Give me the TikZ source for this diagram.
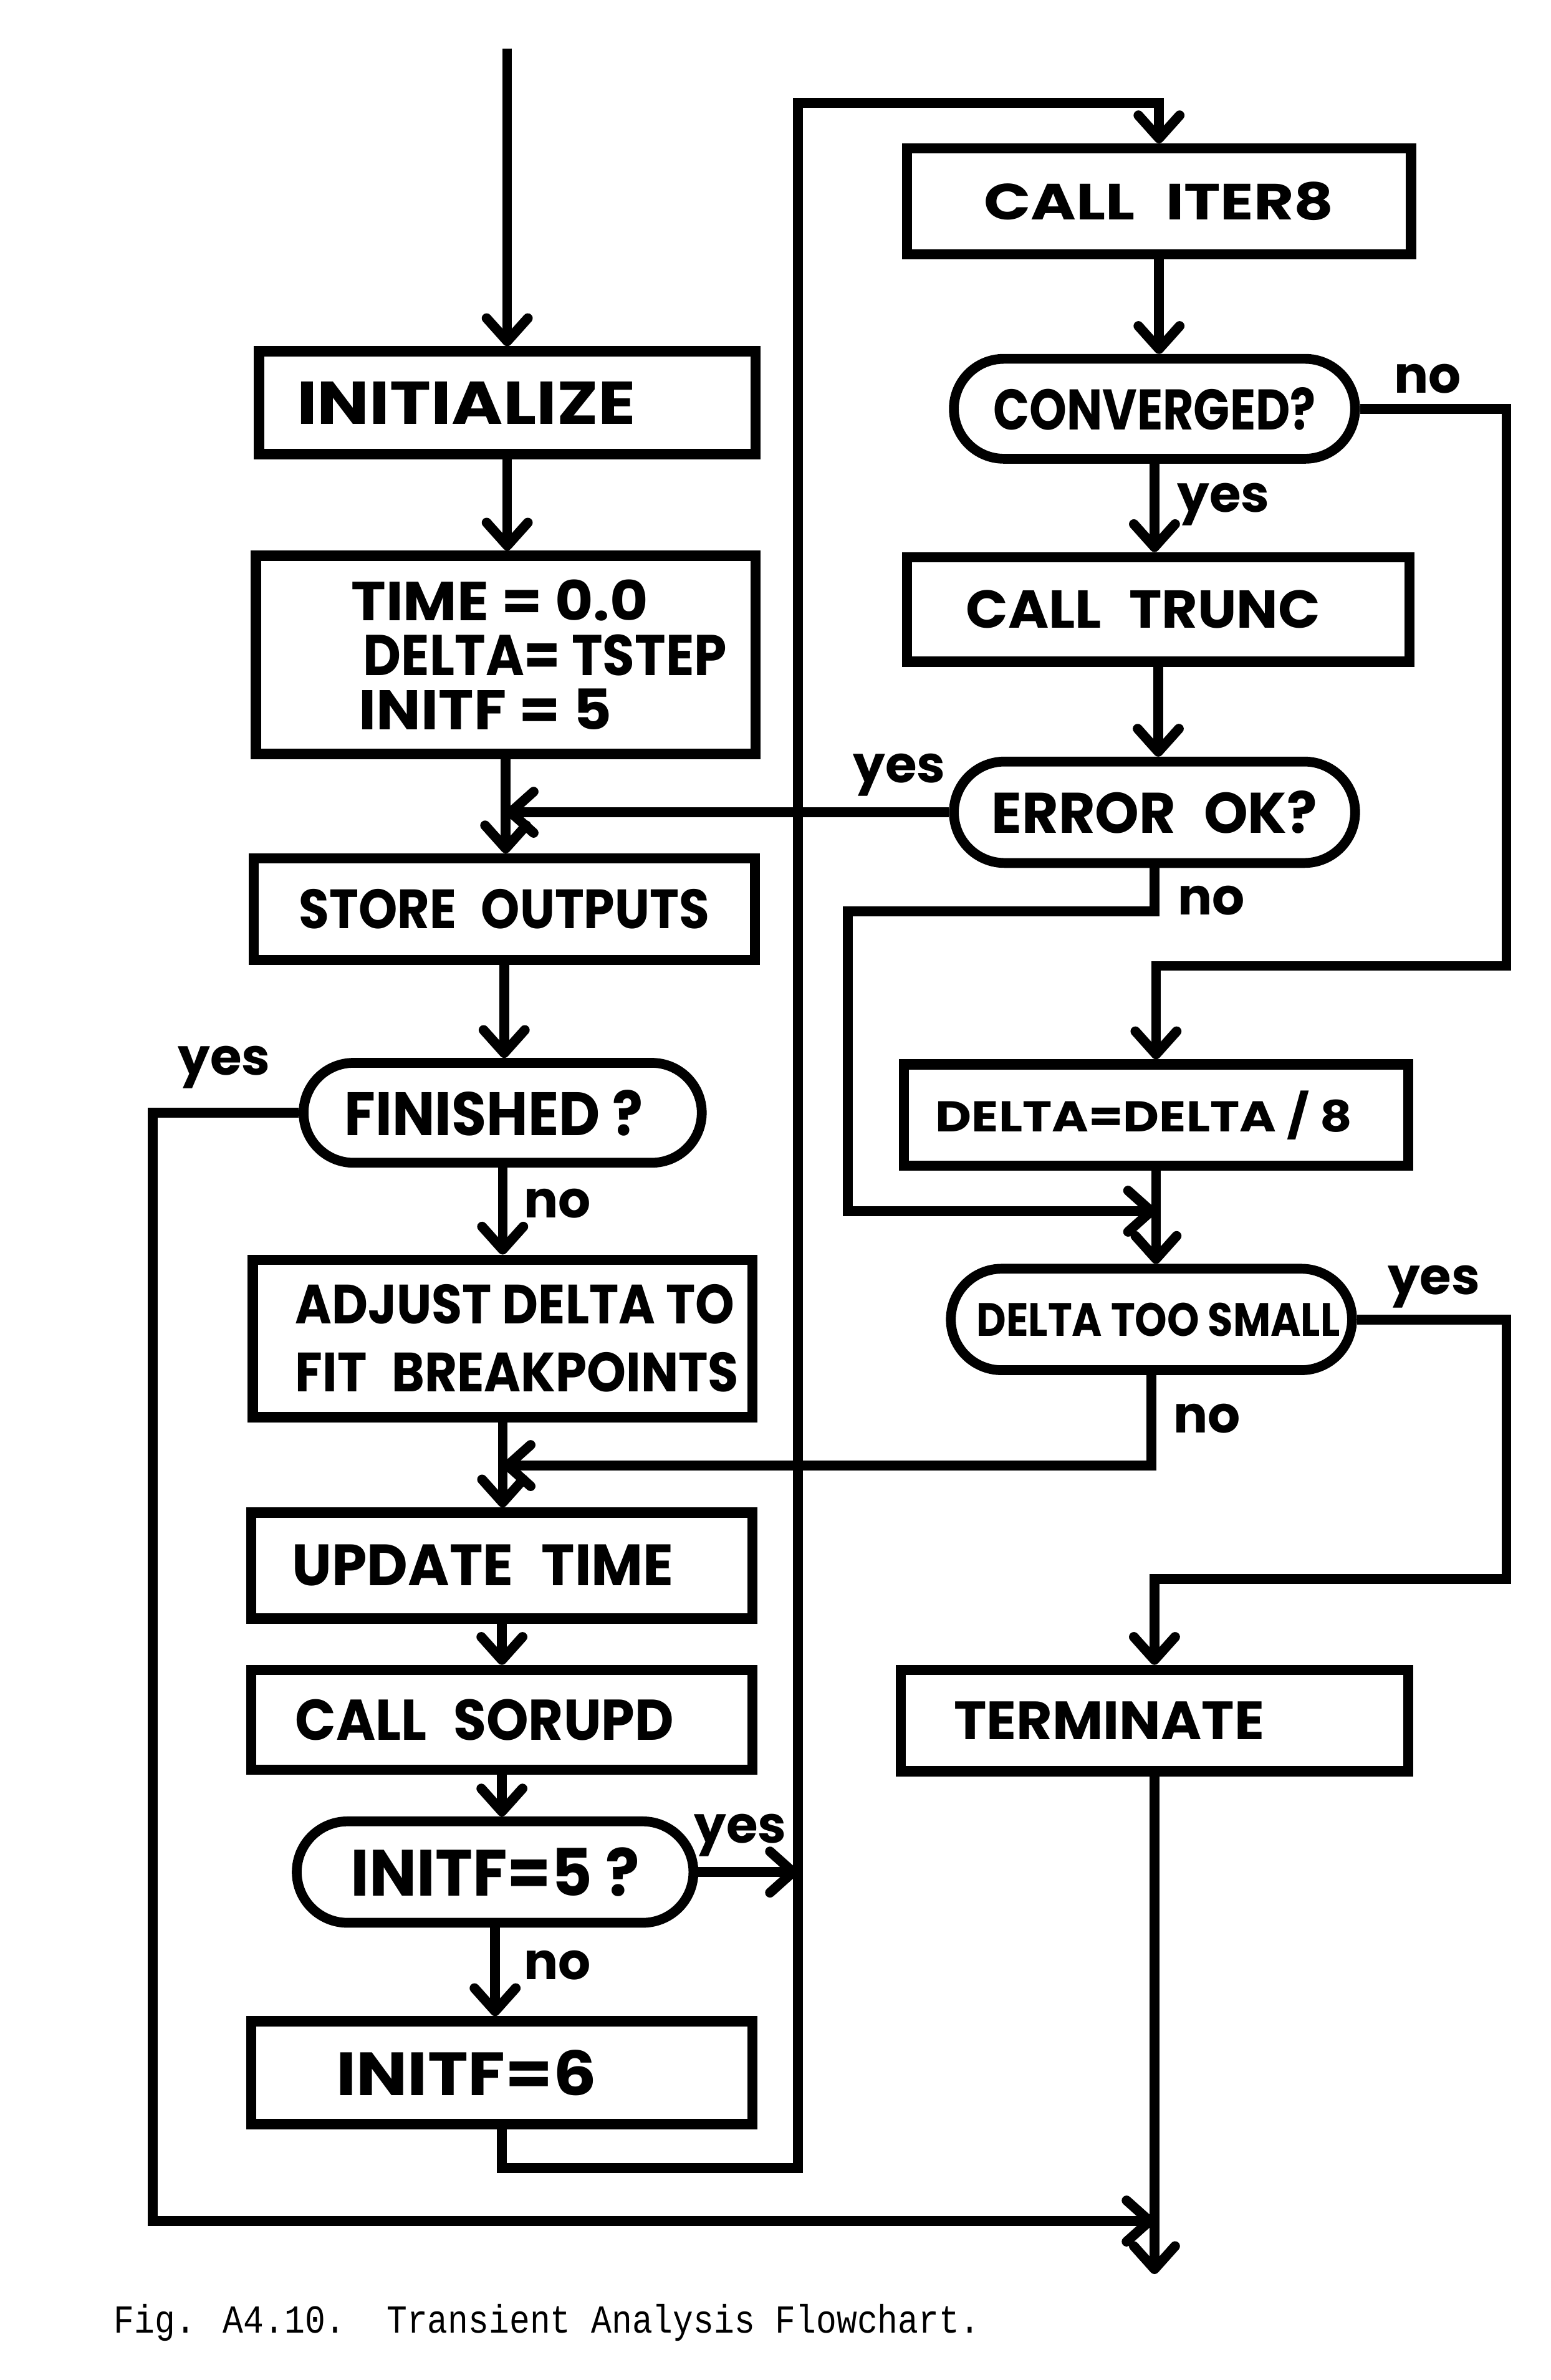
\documentclass[tikz,border=0pt]{standalone}
\usepackage{fontspec}
\newfontfamily\hand{Poppins}
\newfontfamily\typew{Liberation Mono}
\usetikzlibrary{arrows.meta,shapes.misc}
\newlength\pxu
\setlength\pxu{0.025cm}
\newcommand\fitt[3]{\resizebox{#1\pxu}{#2\pxu}{\hand\bfseries #3}}
\tikzset{
  sz/.style 2 args={minimum width=#1\pxu, minimum height=#2\pxu},
  box/.style={draw, rectangle, line width=4.8pt, inner sep=0pt},
  termbox/.style={draw, rounded rectangle, line width=4.6pt, inner sep=0pt},
  flow/.style={line width=4.6pt},
  arr/.style={flow, -{Straight Barb[length=0.38cm,width=0.68cm,round]}},
  lbl/.style={inner sep=0pt, font=\hand\bfseries\fontsize{24}{24}\selectfont},
}
\begin{document}
\begin{tikzpicture}[x=0.025cm,y=-0.025cm]
\fill[white] (0,0) rectangle (1024,1572);
\useasboundingbox (0,0) rectangle (1024,1572);

% left column
\node[box, sz={328}{68}] (init) at (335,266) {\fitt{224}{28}{INITIALIZE}\hspace*{54\pxu}};
\node[box, sz={330}{131}, align=left, font=\fontsize{10}{25.6}\selectfont] (time) at (334,432.5)
  {\hspace*{44\pxu}\fitt{196}{27}{TIME = 0.0}\\
   \hspace*{52\pxu}\fitt{240}{27}{DELTA= TSTEP}\\
   \hspace*{49\pxu}\fitt{167}{27}{INITF = 5}};
\node[box, sz={331}{67}] (store) at (333,600.5) {\fitt{271}{26}{STORE\enspace OUTPUTS}};
\node[termbox, sz={263}{66}] (fin) at (332,735) {\fitt{197}{30}{FINISHED ?}\hspace*{12\pxu}};
\node[box, sz={330}{104}, align=left, font=\fontsize{10}{32}\selectfont] (adj) at (332,884)
  {\hspace*{19\pxu}\fitt{290}{26}{ADJUST DELTA TO}\\
   \hspace*{19\pxu}\fitt{293}{26}{FIT\enspace BREAKPOINTS}};
\node[box, sz={331}{70}] (upd) at (331.5,1034) {\fitt{252}{27}{UPDATE\enspace TIME}\hspace*{25\pxu}};
\node[box, sz={331}{66}] (sor) at (331.5,1136) {\fitt{250}{27}{CALL\enspace SORUPD}\hspace*{23\pxu}};
\node[termbox, sz={262}{67}] (i5) at (327,1236.5) {\fitt{191}{32}{INITF=5 ?}};
\node[box, sz={331}{68}] (i6) at (331.5,1369) {\fitt{172}{30}{INITF=6}\hspace*{47\pxu}};

% right column
\node[box, sz={333}{70}] (it8) at (765.5,133) {\fitt{231}{25}{CALL\enspace ITER8}};
\node[termbox, sz={265}{66}] (conv) at (762.5,270) {\fitt{213}{28}{CONVERGED?}};
\node[box, sz={332}{69}] (trunc) at (765,402.5) {\fitt{234}{25}{CALL\enspace TRUNC}\hspace*{20\pxu}};
\node[termbox, sz={265}{67}] (err) at (762.5,536.5) {\fitt{215}{28}{ERROR\enspace OK?}};
\node[box, sz={333}{67}] (d8) at (763.5,736.5) {\fitt{275}{27}{DELTA=DELTA / 8}\hspace*{16\pxu}};
\node[termbox, sz={265}{67}] (small) at (760.5,871.5) {\hspace*{9\pxu}\fitt{240}{22}{DELTA TOO SMALL}};
\node[box, sz={335}{67}] (term) at (762.5,1136.5) {\fitt{205}{25}{TERMINATE}\hspace*{60\pxu}};

% coordinates
\coordinate (start) at (335,32);
\coordinate (lpA) at (527,1432);
\coordinate (lpB) at (527,68);
\coordinate (cnA) at (995,638);
\coordinate (enA) at (560,602);
\coordinate (enB) at (560,800);
\coordinate (syA) at (995,1043);
\coordinate (snY) at (0,968);
\coordinate (fyB) at (101,1467);
\coordinate (exY) at (0,1502);

% left column flow
\draw[arr] (start) -- (init.north);
\draw[arr] (init.south) -- (init.south |- time.north);
\draw[arr] (time.south) -- (time.south |- store.north);
\draw[arr] (store.south) -- (store.south |- fin.north);
\draw[arr] (fin.south) -- (fin.south |- adj.north);
\draw[arr] (adj.south) -- (adj.south |- upd.north);
\draw[arr] (upd.south) -- (upd.south |- sor.north);
\draw[arr] (sor.south) -- (sor.south |- i5.north);
\draw[arr] (i5.south) -- (i5.south |- i6.north);
\draw[arr] (i6.south) |- (lpA) -- (lpB) -| (it8.north);
\draw[arr] (i5.east) -- (i5.east -| lpA);
\draw[arr] (fin.west) -| (fyB) -- (fyB -| term.south);

% right column flow
\draw[arr] (it8.south) -- (it8.south |- conv.north);
\draw[arr] (conv.south) -- (conv.south |- trunc.north);
\draw[arr] (trunc.south) -- (trunc.south |- err.north);
\draw[arr] (err.west) -- (err.west -| time.south);
\draw[arr] (conv.east) -| (cnA) -| (d8.north);
\draw[arr] (err.south) |- (enA) -- (enB) -- (enB -| d8.south);
\draw[arr] (d8.south) -- (d8.south |- small.north);
\draw[arr] (small.east) -| (syA) -| (term.north);
\draw[arr] (small.south) -- (small.south |- snY) -- (adj.south |- snY);
\draw[arr] (term.south) -- (term.south |- exY);

% labels
\node[lbl] (lconvno) at (943,250) {no};
\node[lbl] (lconvyes) at (808,333) {yes};
\node[lbl] (lerryes) at (594,512) {yes};
\node[lbl] (lerrno) at (800,595) {no};
\node[lbl] (lfinyes) at (148,705) {yes};
\node[lbl] (lfinno) at (368,795) {no};
\node[lbl] (lsmallyes) at (947,850) {yes};
\node[lbl] (lsmallno) at (797,937) {no};
\node[lbl] (li5yes) at (489,1212) {yes};
\node[lbl] (li5no) at (368,1298) {no};

% caption
\node[anchor=base west, inner sep=0pt] (cap) at (75,1541)
  {\resizebox{572\pxu}{19\pxu}{\typew Fig. A4.10.\ \ Transient Analysis Flowchart.}};
\end{tikzpicture}
\end{document}
